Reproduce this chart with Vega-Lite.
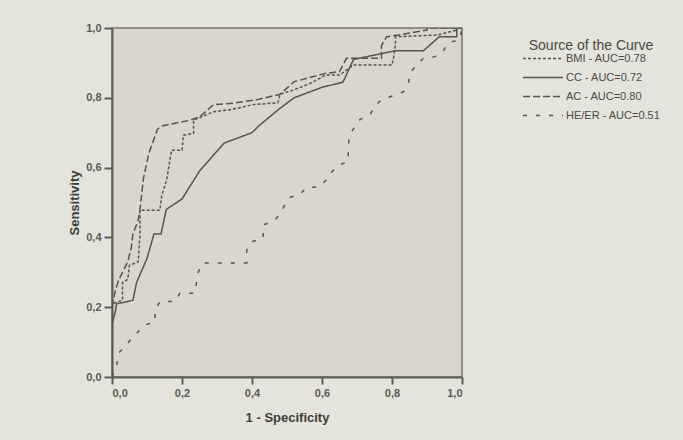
{
  "$schema": "https://vega.github.io/schema/vega-lite/v6.json",
  "width": 350,
  "height": 349,
  "autosize": {"type": "none"},
  "padding": {"left": 112, "top": 28, "right": 221, "bottom": 63},
  "background": "#e4e4dd",
  "config": {
    "font": "Liberation Sans",
    "view": {"fill": "#d8d6ce", "stroke": "#77766a", "strokeWidth": 1.5},
    "axis": {
      "domainColor": "#5f5e52", "domainWidth": 2, "tickColor": "#5f5e52", "tickWidth": 2,
      "grid": false, "labelFont": "Liberation Sans", "labelFontSize": 11, "labelFontWeight": "bold",
      "labelColor": "#5a5a50", "titleFont": "Liberation Sans", "titleFontSize": 13,
      "titleFontWeight": "bold", "titleColor": "#3e3e36"
    }
  },
  "data": {"values": [
    {"s":"CC","i":0,"x":0,"y":0},{"s":"CC","i":1,"x":0,"y":0.15},{"s":"CC","i":2,"x":0.01,"y":0.19},{"s":"CC","i":3,"x":0.013,"y":0.21},{"s":"CC","i":4,"x":0.04,"y":0.215},{"s":"CC","i":5,"x":0.06,"y":0.22},{"s":"CC","i":6,"x":0.07,"y":0.27},{"s":"CC","i":7,"x":0.1,"y":0.34},{"s":"CC","i":8,"x":0.12,"y":0.41},{"s":"CC","i":9,"x":0.14,"y":0.41},{"s":"CC","i":10,"x":0.155,"y":0.48},{"s":"CC","i":11,"x":0.2,"y":0.51},{"s":"CC","i":12,"x":0.25,"y":0.59},{"s":"CC","i":13,"x":0.32,"y":0.67},{"s":"CC","i":14,"x":0.4,"y":0.7},{"s":"CC","i":15,"x":0.42,"y":0.72},{"s":"CC","i":16,"x":0.48,"y":0.77},{"s":"CC","i":17,"x":0.52,"y":0.8},{"s":"CC","i":18,"x":0.6,"y":0.83},{"s":"CC","i":19,"x":0.66,"y":0.845},{"s":"CC","i":20,"x":0.69,"y":0.91},{"s":"CC","i":21,"x":0.81,"y":0.935},{"s":"CC","i":22,"x":0.89,"y":0.935},{"s":"CC","i":23,"x":0.935,"y":0.975},{"s":"CC","i":24,"x":0.985,"y":0.975},{"s":"CC","i":25,"x":0.985,"y":1},{"s":"CC","i":26,"x":1,"y":1},
    {"s":"AC","i":0,"x":0,"y":0},{"s":"AC","i":1,"x":0,"y":0.2},{"s":"AC","i":2,"x":0.01,"y":0.25},{"s":"AC","i":3,"x":0.02,"y":0.28},{"s":"AC","i":4,"x":0.03,"y":0.3},{"s":"AC","i":5,"x":0.045,"y":0.33},{"s":"AC","i":6,"x":0.055,"y":0.37},{"s":"AC","i":7,"x":0.06,"y":0.41},{"s":"AC","i":8,"x":0.075,"y":0.45},{"s":"AC","i":9,"x":0.08,"y":0.48},{"s":"AC","i":10,"x":0.09,"y":0.57},{"s":"AC","i":11,"x":0.105,"y":0.64},{"s":"AC","i":12,"x":0.13,"y":0.71},{"s":"AC","i":13,"x":0.145,"y":0.72},{"s":"AC","i":14,"x":0.22,"y":0.735},{"s":"AC","i":15,"x":0.25,"y":0.745},{"s":"AC","i":16,"x":0.29,"y":0.78},{"s":"AC","i":17,"x":0.35,"y":0.785},{"s":"AC","i":18,"x":0.42,"y":0.796},{"s":"AC","i":19,"x":0.48,"y":0.81},{"s":"AC","i":20,"x":0.52,"y":0.846},{"s":"AC","i":21,"x":0.61,"y":0.87},{"s":"AC","i":22,"x":0.65,"y":0.875},{"s":"AC","i":23,"x":0.67,"y":0.913},{"s":"AC","i":24,"x":0.77,"y":0.913},{"s":"AC","i":25,"x":0.77,"y":0.95},{"s":"AC","i":26,"x":0.785,"y":0.975},{"s":"AC","i":27,"x":0.82,"y":0.98},{"s":"AC","i":28,"x":0.9,"y":0.994},{"s":"AC","i":29,"x":0.9,"y":1},{"s":"AC","i":30,"x":1,"y":1},
    {"s":"BMI","i":0,"x":0,"y":0},{"s":"BMI","i":1,"x":0,"y":0.21},{"s":"BMI","i":2,"x":0.03,"y":0.22},{"s":"BMI","i":3,"x":0.03,"y":0.27},{"s":"BMI","i":4,"x":0.045,"y":0.28},{"s":"BMI","i":5,"x":0.05,"y":0.32},{"s":"BMI","i":6,"x":0.075,"y":0.33},{"s":"BMI","i":7,"x":0.08,"y":0.41},{"s":"BMI","i":8,"x":0.08,"y":0.478},{"s":"BMI","i":9,"x":0.137,"y":0.478},{"s":"BMI","i":10,"x":0.142,"y":0.52},{"s":"BMI","i":11,"x":0.156,"y":0.564},{"s":"BMI","i":12,"x":0.17,"y":0.65},{"s":"BMI","i":13,"x":0.2,"y":0.65},{"s":"BMI","i":14,"x":0.204,"y":0.693},{"s":"BMI","i":15,"x":0.233,"y":0.698},{"s":"BMI","i":16,"x":0.233,"y":0.736},{"s":"BMI","i":17,"x":0.29,"y":0.76},{"s":"BMI","i":18,"x":0.33,"y":0.765},{"s":"BMI","i":19,"x":0.36,"y":0.77},{"s":"BMI","i":20,"x":0.4,"y":0.78},{"s":"BMI","i":21,"x":0.474,"y":0.786},{"s":"BMI","i":22,"x":0.48,"y":0.81},{"s":"BMI","i":23,"x":0.518,"y":0.822},{"s":"BMI","i":24,"x":0.566,"y":0.841},{"s":"BMI","i":25,"x":0.61,"y":0.865},{"s":"BMI","i":26,"x":0.65,"y":0.865},{"s":"BMI","i":27,"x":0.69,"y":0.894},{"s":"BMI","i":28,"x":0.8,"y":0.894},{"s":"BMI","i":29,"x":0.805,"y":0.918},{"s":"BMI","i":30,"x":0.81,"y":0.956},{"s":"BMI","i":31,"x":0.81,"y":0.975},{"s":"BMI","i":32,"x":0.93,"y":0.98},{"s":"BMI","i":33,"x":0.985,"y":0.994},{"s":"BMI","i":34,"x":0.985,"y":1},{"s":"BMI","i":35,"x":1,"y":1},
    {"s":"HE/ER","i":0,"x":0,"y":0},{"s":"HE/ER","i":1,"x":0.013,"y":0.03},{"s":"HE/ER","i":2,"x":0.018,"y":0.068},{"s":"HE/ER","i":3,"x":0.037,"y":0.087},{"s":"HE/ER","i":4,"x":0.056,"y":0.11},{"s":"HE/ER","i":5,"x":0.075,"y":0.13},{"s":"HE/ER","i":6,"x":0.094,"y":0.149},{"s":"HE/ER","i":7,"x":0.123,"y":0.158},{"s":"HE/ER","i":8,"x":0.123,"y":0.192},{"s":"HE/ER","i":9,"x":0.137,"y":0.216},{"s":"HE/ER","i":10,"x":0.18,"y":0.216},{"s":"HE/ER","i":11,"x":0.194,"y":0.24},{"s":"HE/ER","i":12,"x":0.237,"y":0.24},{"s":"HE/ER","i":13,"x":0.242,"y":0.273},{"s":"HE/ER","i":14,"x":0.247,"y":0.302},{"s":"HE/ER","i":15,"x":0.261,"y":0.327},{"s":"HE/ER","i":16,"x":0.385,"y":0.327},{"s":"HE/ER","i":17,"x":0.385,"y":0.364},{"s":"HE/ER","i":18,"x":0.399,"y":0.388},{"s":"HE/ER","i":19,"x":0.432,"y":0.397},{"s":"HE/ER","i":20,"x":0.432,"y":0.436},{"s":"HE/ER","i":21,"x":0.461,"y":0.445},{"s":"HE/ER","i":22,"x":0.478,"y":0.464},{"s":"HE/ER","i":23,"x":0.494,"y":0.493},{"s":"HE/ER","i":24,"x":0.509,"y":0.515},{"s":"HE/ER","i":25,"x":0.537,"y":0.523},{"s":"HE/ER","i":26,"x":0.556,"y":0.543},{"s":"HE/ER","i":27,"x":0.594,"y":0.545},{"s":"HE/ER","i":28,"x":0.611,"y":0.564},{"s":"HE/ER","i":29,"x":0.628,"y":0.588},{"s":"HE/ER","i":30,"x":0.647,"y":0.607},{"s":"HE/ER","i":31,"x":0.675,"y":0.617},{"s":"HE/ER","i":32,"x":0.675,"y":0.655},{"s":"HE/ER","i":33,"x":0.678,"y":0.693},{"s":"HE/ER","i":34,"x":0.694,"y":0.717},{"s":"HE/ER","i":35,"x":0.709,"y":0.738},{"s":"HE/ER","i":36,"x":0.737,"y":0.751},{"s":"HE/ER","i":37,"x":0.751,"y":0.777},{"s":"HE/ER","i":38,"x":0.77,"y":0.794},{"s":"HE/ER","i":39,"x":0.8,"y":0.805},{"s":"HE/ER","i":40,"x":0.832,"y":0.817},{"s":"HE/ER","i":41,"x":0.847,"y":0.841},{"s":"HE/ER","i":42,"x":0.851,"y":0.87},{"s":"HE/ER","i":43,"x":0.87,"y":0.894},{"s":"HE/ER","i":44,"x":0.889,"y":0.913},{"s":"HE/ER","i":45,"x":0.923,"y":0.918},{"s":"HE/ER","i":46,"x":0.947,"y":0.935},{"s":"HE/ER","i":47,"x":0.961,"y":0.958},{"s":"HE/ER","i":48,"x":0.994,"y":0.966},{"s":"HE/ER","i":49,"x":1,"y":1}
  ]},
  "mark": {"type": "line", "color": "#55554a", "strokeWidth": 1.5, "clip": true},
  "encoding": {
    "x": {"field": "x", "type": "quantitative", "scale": {"domain": [0, 1], "nice": false, "zero": false},
      "axis": {"title": "1 - Specificity", "values": [0, 0.2, 0.4, 0.6, 0.8, 1], "tickSize": 7, "labelPadding": 3,
        "labelExpr": "replace(format(datum.value, '.1f'), '.', ',')", "titlePadding": 13}},
    "y": {"field": "y", "type": "quantitative", "scale": {"domain": [0, 1], "nice": false, "zero": false},
      "axis": {"title": "Sensitivity", "values": [0, 0.2, 0.4, 0.6, 0.8, 1], "tickSize": 8, "labelPadding": 3,
        "labelExpr": "replace(format(datum.value, '.1f'), '.', ',')", "titlePadding": 4}},
    "order": {"field": "i", "type": "quantitative"},
    "strokeDash": {"field": "s", "type": "nominal",
      "scale": {"domain": ["BMI", "CC", "AC", "HE/ER"], "range": [[3, 2], [1, 0], [7, 3], [4, 9]]},
      "legend": {
        "title": "Source of the Curve", "orient": "none", "legendX": 410, "legendY": 11,
        "titleFont": "Liberation Sans", "titleFontSize": 14, "titleFontWeight": "normal", "titleColor": "#4a4a40",
        "titleAnchor": "middle", "titleAlign": "center", "titlePadding": -4,
        "labelFont": "Liberation Sans", "labelFontSize": 11, "labelColor": "#4a4a40",
        "symbolType": "stroke", "symbolSize": 1600, "symbolStrokeColor": "#55554a", "symbolStrokeWidth": 1.5,
        "clipHeight": 19, "rowPadding": 0, "labelOffset": 2,
        "labelExpr": "{'BMI':'BMI - AUC=0.78','CC':'CC - AUC=0.72','AC':'AC - AUC=0.80','HE/ER':'HE/ER - AUC=0.51'}[datum.label]"
      }}
  }
}
